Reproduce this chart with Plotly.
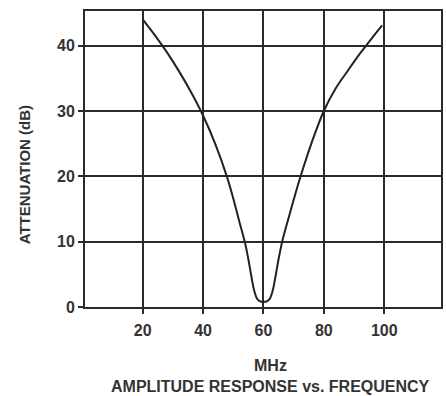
import plotly.graph_objects as go

# Data (MHz vs attenuation dB)
freq_mhz = [20, 24, 28, 32, 36, 40, 44, 48, 50, 52, 54, 55, 56, 57, 58, 59, 60,
            61, 62, 63, 64, 65, 66.2, 68, 70, 72.3, 76, 80, 84, 88, 92, 96, 99.3]
atten_db = [44.0, 41.6, 39.0, 36.1, 32.9, 29.3, 25.0, 19.8, 16.6, 13.1, 9.6, 7.3, 4.7, 2.4, 1.2, 0.85, 0.8,
            0.85, 1.2, 2.4, 4.7, 7.3, 10.0, 13.1, 16.4, 20.0, 25.2, 30.0, 33.5, 36.2, 38.8, 41.2, 43.1]

x_ticks = [20, 40, 60, 80, 100]
y_ticks = [0, 10, 20, 30, 40]

x_title = "MHz"
y_title = "ATTENUATION (dB)"
chart_title = "AMPLITUDE RESPONSE vs. FREQUENCY"

ink = "#2b2b2b"
font_family = "Liberation Sans, Arial, sans-serif"

fig = go.Figure()
fig.add_trace(go.Scatter(
    x=freq_mhz, y=atten_db, mode="lines",
    line=dict(color="#222222", width=2, shape="spline", smoothing=1.0),
    hoverinfo="skip", showlegend=False,
))

axis_common = dict(
    showline=True, mirror=True, linecolor=ink, linewidth=2,
    showgrid=True, gridcolor=ink, gridwidth=2,
    zeroline=False,
    ticks="outside", ticklen=5, tickwidth=2, tickcolor=ink,
    tickfont=dict(family=font_family, size=16, color="#333333", weight="bold"),
)

fig.update_layout(
    width=446, height=396,
    margin=dict(l=85, r=3, t=11, b=89),
    paper_bgcolor="white", plot_bgcolor="white",
    xaxis=dict(range=[0.9, 118.8], tickvals=x_ticks, ticklabelstandoff=3, **axis_common),
    yaxis=dict(range=[0, 45.3], tickvals=y_ticks, **axis_common),
    annotations=[
        dict(text=y_title, xref="paper", yref="paper", x=-0.1676, y=0.446,
             textangle=-90, showarrow=False, xanchor="center", yanchor="middle",
             font=dict(family=font_family, size=15, color="#333333", weight="bold")),
        dict(text=x_title, xref="paper", yref="paper", x=0.52, y=-0.196,
             showarrow=False, xanchor="center", yanchor="middle",
             font=dict(family=font_family, size=16, color="#333333", weight="bold")),
        dict(text=chart_title, xref="paper", yref="paper", x=0.52, y=-0.27,
             showarrow=False, xanchor="center", yanchor="middle",
             font=dict(family=font_family, size=16, color="#333333", weight="bold")),
    ],
)

fig.write_html("out.html")
